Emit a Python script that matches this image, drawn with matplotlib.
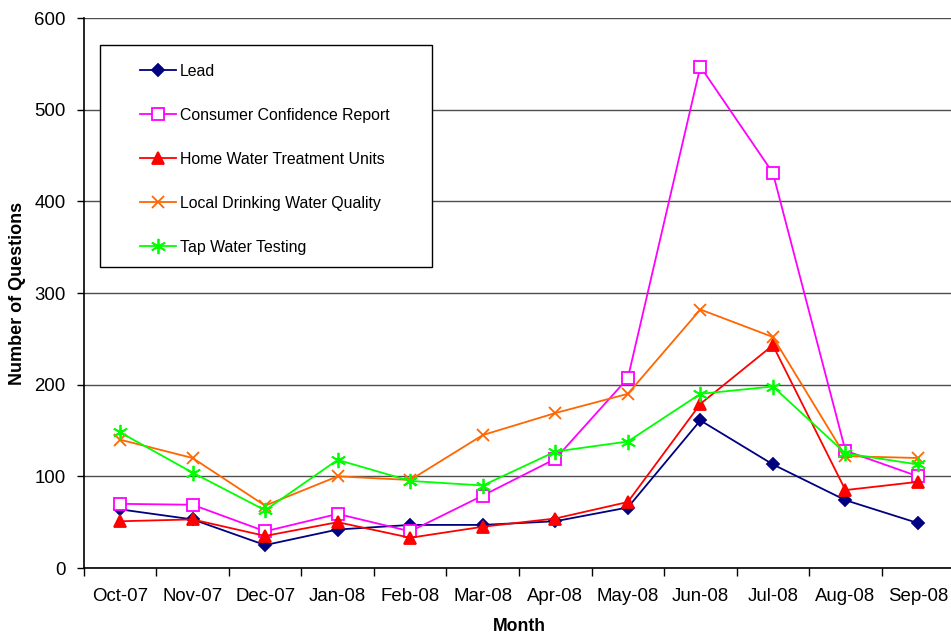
import matplotlib
matplotlib.use("Agg")
import matplotlib.pyplot as plt
from matplotlib.patches import Rectangle

plt.rcParams["font.family"] = ["Liberation Sans", "DejaVu Sans"]

months = ["Oct-07", "Nov-07", "Dec-07", "Jan-08", "Feb-08", "Mar-08",
          "Apr-08", "May-08", "Jun-08", "Jul-08", "Aug-08", "Sep-08"]
lead = [64, 53, 25, 42, 47, 47, 51, 66, 161, 113, 74, 49]
ccr = [70, 69, 40, 59, 40, 79, 119, 207, 547, 431, 128, 100]
home_units = [51, 53, 35, 50, 33, 45, 54, 72, 179, 243, 85, 94]
local_quality = [140, 120, 68, 100, 96, 145, 169, 190, 282, 252, 122, 120]
tap_testing = [148, 104, 63, 118, 95, 90, 127, 138, 190, 198, 125, 113]

series = [
    ("Lead", lead, "#000080", "D", 6, "#000080"),
    ("Consumer Confidence Report", ccr, "#FF00FF", "s", 9, "white"),
    ("Home Water Treatment Units", home_units, "#FF0000", "^", 9, "#FF0000"),
    ("Local Drinking Water Quality", local_quality, "#FF6600", "x", 8, "#FF6600"),
    ("Tap Water Testing", tap_testing, "#00FF00", (6, 2, 0), 11, "#00FF00"),
]

fig = plt.figure(figsize=(9.51, 6.34), dpi=100)
ax = fig.add_axes([0.0881, 0.1041, 0.9153, 0.8675])

x = list(range(len(months)))
for name, vals, col, mk, ms, fc in series:
    ax.plot(x, vals, color=col, lw=1.3, marker=mk, ms=ms, mfc=fc,
            mec=col, mew=1.3, label=name, zorder=3)

ax.set_xlim(-0.5, len(months) - 0.5)
ax.set_ylim(0, 600)
ax.set_yticks(range(0, 601, 100))
ax.yaxis.grid(True, color="#4d4d4d", lw=1.0)
ax.set_axisbelow(True)

ax.set_xticks(x)
ax.set_xticklabels(months)
ax.set_xticks([i - 0.5 for i in range(len(months) + 1)], minor=True)
ax.tick_params(axis="x", which="major", length=0, pad=14.5, labelsize=13.4)
ax.tick_params(axis="x", which="minor", length=6, width=1, direction="out")
ax.tick_params(axis="y", length=5, width=1, labelsize=13.4, pad=8)

for s in ["top", "right"]:
    ax.spines[s].set_visible(False)
for s in ["left", "bottom"]:
    ax.spines[s].set_linewidth(1.2)

ax.set_xlabel("Month", fontsize=12.7, fontweight="bold")
ax.set_ylabel("Number of Questions", fontsize=13, fontweight="bold")
ax.xaxis.set_label_coords(0.5, -0.107)
ax.yaxis.set_label_coords(-0.076, 0.5)
ax.xaxis.label.set_va("center")
ax.yaxis.label.set_va("center")

# legend box drawn separately so the inner padding matches
ax.add_patch(Rectangle((0.0184, 0.547), 0.3816, 0.404, transform=ax.transAxes,
                       facecolor="white", edgecolor="black", lw=1.0, zorder=4))
leg = ax.legend(loc="upper left", bbox_to_anchor=(0.0644, 0.9164), frameon=False,
                fontsize=11.4, handlelength=2.28, handletextpad=0.25,
                labelspacing=1.83, borderaxespad=0, borderpad=0)
leg.set_zorder(5)

fig.savefig("out.png", dpi=100)
